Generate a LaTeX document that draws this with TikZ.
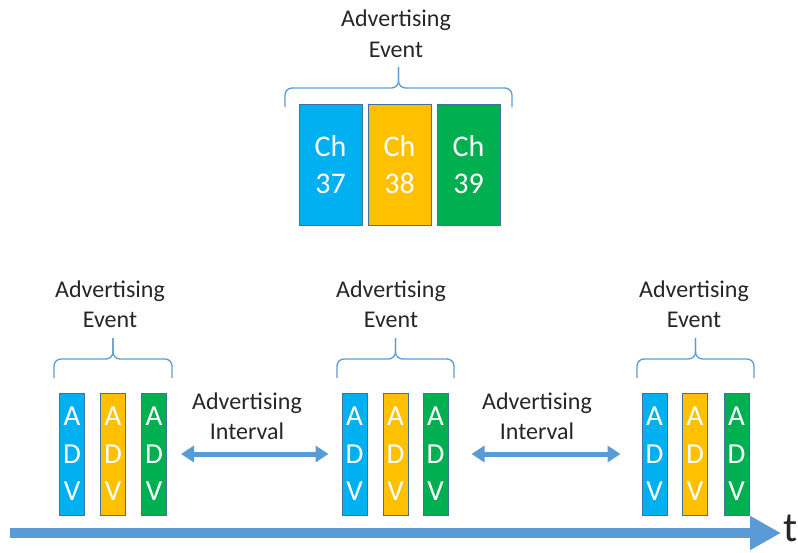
\documentclass[tikz,border=0pt]{standalone}
\usepackage{fontspec}
\setmainfont{Carlito}
\usetikzlibrary{arrows.meta}
\definecolor{chblue}{HTML}{00B0F0}
\definecolor{chorange}{HTML}{FFC000}
\definecolor{chgreen}{HTML}{00B050}
\definecolor{edge}{HTML}{41719C}
\definecolor{arr}{HTML}{5B9BD5}
\definecolor{ink}{HTML}{262626}

\tikzset{
  chbox/.style = {draw = edge, line width = 1pt, inner sep = 0pt, text = white,
    minimum width = 63pt, minimum height = 121pt, align = center,
    font = \fontsize{30}{37}\selectfont},
  advbar/.style = {draw = edge, line width = 1pt, inner sep = 0pt, text = white,
    minimum width = 25pt, minimum height = 122pt, align = center,
    font = \fontsize{29}{37.5}\selectfont},
  lbl/.style = {text = ink, align = center, font = \fontsize{24}{30.5}\selectfont},
  evbrace/.style = {draw = arr, line width = 1.3pt, rounded corners = 7pt},
  interval/.style = {draw = arr, line width = 5pt,
    {Triangle[width = 16pt, length = 13pt]}-{Triangle[width = 16pt, length = 13pt]}},
  timeline/.style = {draw = arr, line width = 10pt,
    -{Triangle[width = 32pt, length = 31pt]}}
}

% brace over one advertising event: #1 left x, #2 right x, #3 end y
\newcommand{\eventbrace}[3]{
  \draw [evbrace] (#1,#3) -- (#1,#3-19) -- ({(#1+#2)/2},#3-19) -- ({(#1+#2)/2},#3-40);
  \draw [evbrace] (#2,#3) -- (#2,#3-19) -- ({(#1+#2)/2},#3-19) -- ({(#1+#2)/2},#3-40);
}

\begin{document}
\begin{tikzpicture}[x = 1pt, y = -1pt]
\useasboundingbox (0,0) rectangle (798,552);

% one advertising event, channels
\node [chbox, fill = chblue] (ch37) at (330.5,164.5) {Ch\\37};
\node [chbox, fill = chorange] (ch38) at (399.5,164.5) {Ch\\38};
\node [chbox, fill = chgreen] (ch39) at (468.5,164.5) {Ch\\39};
\eventbrace{285}{512}{107}
\node [lbl] (evtop) at (396,34) {Advertising\\Event};

% three events on the time line
\foreach \name/\xa/\xb/\xc/\xt in {a/72/113/154/110, b/354.5/395.5/435.5/391, c/654.5/695/736.5/694} {
  \node [advbar, fill = chblue] (\name1) at (\xa,454) {A\\D\\V};
  \node [advbar, fill = chorange] (\name2) at (\xb,454) {A\\D\\V};
  \node [advbar, fill = chgreen] (\name3) at (\xc,454) {A\\D\\V};
  \node [lbl] (\name ev) at (\xt,304) {Advertising\\Event};
}
\eventbrace{54}{172}{378}
\eventbrace{337}{454}{378}
\eventbrace{637}{754}{378}

% intervals
\draw [interval, shorten <= 14pt, shorten >= 13pt] (a3.east) -- (b1.west);
\node [lbl] (int1) at (247,416) {Advertising\\Interval};
\draw [interval, shorten <= 23pt, shorten >= 21pt] (b3.east) -- (c1.west);
\node [lbl] (int2) at (537,416) {Advertising\\Interval};

% time
\coordinate (t0) at (10,533);
\coordinate (t1) at (781,533);
\draw [timeline] (t0) -- (t1);
\node [text = ink, font = \fontsize{42}{42}\selectfont, anchor = west, inner sep = 0pt] (tlbl) at (783,528) {t};
\end{tikzpicture}
\end{document}
